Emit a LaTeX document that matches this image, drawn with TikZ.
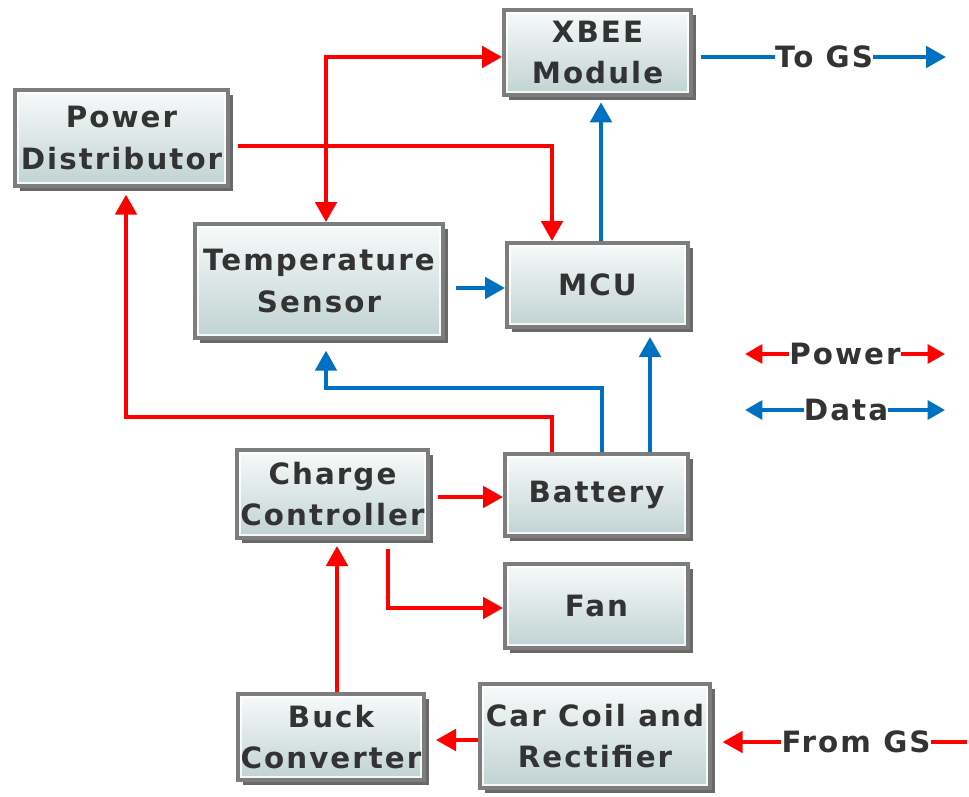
\documentclass[tikz,border=0pt]{standalone}
\usepackage{fontspec}
\setmainfont{DejaVu Sans}[LetterSpace=7]
\usetikzlibrary{arrows.meta,shadows,calc}
\definecolor{pwred}{RGB}{255,0,0}
\definecolor{dtblue}{RGB}{0,112,192}
\definecolor{boxgray}{RGB}{125,125,125}
\definecolor{shadowgray}{RGB}{105,105,105}
\definecolor{txtgray}{RGB}{51,51,51}
\definecolor{filltop}{RGB}{248,250,250}
\definecolor{fillbot}{RGB}{192,210,210}
\begin{document}
\begin{tikzpicture}[x=0.75pt,y=-0.75pt,
  txt/.style={font=\fontsize{22}{31}\selectfont\bfseries, text=txtgray},
  blk/.style 2 args={txt, draw=boxgray, line width=3pt, top color=filltop, bottom color=fillbot,
    general shadow={fill=shadowgray, shadow xshift=3.5pt, shadow yshift=-3.5pt},
    align=center, inner sep=0pt, minimum width=#1*0.75pt, minimum height=#2*0.75pt,
    path picture={\draw[white, line width=1pt, opacity=0.85]
      ([shift={(2.3pt,-2.3pt)}]path picture bounding box.north west) rectangle
      ([shift={(-2.3pt,2.3pt)}]path picture bounding box.south east);}},
  lbl/.style={txt, inner sep=0pt, fill=white},
  pw/.style={draw=pwred, line width=3pt},
  dt/.style={draw=dtblue, line width=3pt},
  tip/.style={-{Triangle[length=15pt,width=16pt]}},
  tips/.style={{Triangle[length=15pt,width=16pt]}-{Triangle[length=15pt,width=16pt]}},
  ltip/.style={-{Triangle[length=13pt,width=14pt]}}
]
\useasboundingbox (0,0) rectangle (969,796);

% blocks
\node[blk={187}{85}]  (xbee) at (597.5,52.5) {XBEE\\Module};
\node[blk={213}{96}]  (pd)   at (121.5,138)  {Power\\Distributor};
\node[blk={248}{114}] (temp) at (319,281)    {Temperature\\Sensor};
\node[blk={181}{84}]  (mcu)  at (597.5,285)  {MCU};
\node[blk={191}{88}]  (cc)   at (332.5,494)  {Charge\\Controller};
\node[blk={183}{82}]  (bat)  at (596.5,495)  {Battery};
\node[blk={183}{84}]  (fan)  at (596.5,606)  {Fan};
\node[blk={186}{86}]  (buck) at (331,737)    {Buck\\Converter};
\node[blk={230}{104}] (car)  at (595,736)    {Car Coil and\\Rectifier};

% labels
\node[lbl] (togs)   at (824,57)  {To GS};
\node[lbl] (fromgs) at (856,742) {From GS};
\node[lbl] (lpow)   at (845,354) {Power};
\node[lbl] (ldat)   at (846,410) {Data};

% helper coordinates
\coordinate (y57)  at (0,57);
\coordinate (y146) at (0,146);
\coordinate (y288) at (0,288);
\coordinate (y497) at (0,497);
\coordinate (y608) at (0,608);
\coordinate (y740) at (0,740);
\coordinate (y742) at (0,742);
\coordinate (x126) at (126,0);
\coordinate (x326) at (326,0);
\coordinate (x337) at (337,0);
\coordinate (x388) at (388,0);
\coordinate (x552) at (552,0);
\coordinate (x601) at (601,0);
\coordinate (x602) at (602,0);
\coordinate (x650) at (650,0);
\coordinate (bend1) at (326,388);
\coordinate (bend2) at (126,417);
\coordinate (gsend)   at (946,57);
\coordinate (gsstart) at (967,742);
\coordinate (pl) at (745,354);
\coordinate (pr) at (945,354);
\coordinate (dl) at (745,410);
\coordinate (dr) at (945,410);

% power connectors
\draw[pw,tip,shorten <=6pt] (pd.east |- y146) -| (mcu.north -| x552);
\draw[pw,tips] (temp.north -| x326) |- (xbee.west |- y57);
\draw[pw,tip] (bat.north -| x552) |- (bend2) -- ([yshift=-5pt]pd.south -| x126);
\draw[pw,tip,shorten <=6pt] (cc.east |- y497) -- (bat.west |- y497);
\draw[pw,tip,shorten <=7pt] (cc.south -| x388) |- (fan.west |- y608);
\draw[pw,tip,shorten >=4.5pt] (buck.north -| x337) -- (cc.south -| x337);
\draw[pw,tip,shorten >=7.5pt] (car.west |- y740) -- (buck.east |- y740);
\draw[pw] (gsstart) -- (fromgs.east);
\draw[pw,tip,shorten >=8pt] (fromgs.west) -- (car.east |- y742);

% data connectors
\draw[dt,tip,shorten >=4pt] (mcu.north -| x601) -- (xbee.south -| x601);
\draw[dt,shorten <=6pt] (xbee.east |- y57) -- (togs.west);
\draw[dt,tip] (togs.east) -- (gsend);
\draw[dt,tip,shorten <=8pt] (temp.east |- y288) -- (mcu.west |- y288);
\draw[dt,tip,shorten >=8pt] (bat.north -| x602) |- (bend1) -- (temp.south -| x326);
\draw[dt,tip,shorten >=6pt] (bat.north -| x650) -- (mcu.south -| x650);

% legend
\draw[pw,ltip] (lpow.west) -- (pl);
\draw[pw,ltip] (lpow.east) -- (pr);
\draw[dt,ltip] (ldat.west) -- (dl);
\draw[dt,ltip] (ldat.east) -- (dr);
\end{tikzpicture}
\end{document}
